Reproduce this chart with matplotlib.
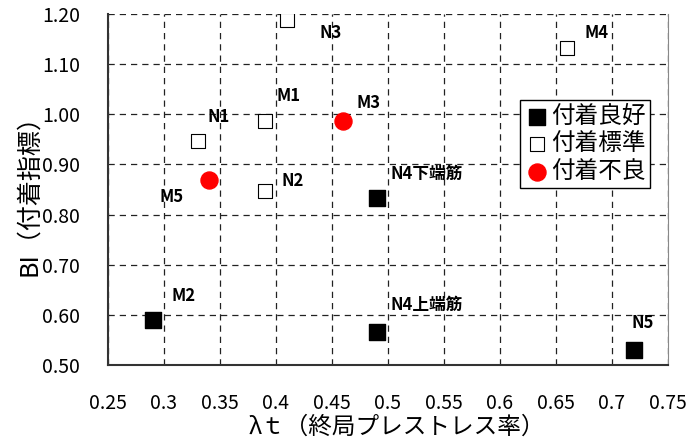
import matplotlib
matplotlib.use('Agg')
import matplotlib.pyplot as plt

plt.rcParams['font.family'] = ['Noto Sans CJK JP', 'DejaVu Sans']

# data
good_names = ['M2', 'N4上端筋', 'N5', 'N4下端筋']
good_x = [0.29, 0.49, 0.72, 0.49]
good_y = [0.59, 0.565, 0.53, 0.833]

std_names = ['N3', 'M1', 'N1', 'N2', 'M4']
std_x = [0.41, 0.39, 0.33, 0.39, 0.66]
std_y = [1.188, 0.986, 0.947, 0.847, 1.132]

bad_names = ['M3', 'M5']
bad_x = [0.46, 0.34]
bad_y = [0.986, 0.869]

# label offsets in points (dx, dy, ha)
offsets = {
    'M2': (22, 17, 'center'), 'N4上端筋': (10, 20, 'left'), 'N5': (6, 19, 'center'),
    'N4下端筋': (10, 17, 'left'), 'N3': (31, -9, 'center'), 'M1': (17, 18, 'center'),
    'N1': (15, 17, 'center'), 'N2': (20, 7, 'center'), 'M4': (21, 11, 'center'),
    'M3': (18, 13, 'center'), 'M5': (-27, -12, 'center'),
}

fig = plt.figure(figsize=(6.9, 4.45), dpi=100)
ax = fig.add_axes([0.1565, 0.180, 0.8115, 0.7885])

ax.scatter(good_x, good_y, marker='s', s=120, color='black', zorder=3, label='付着良好')
ax.scatter(std_x, std_y, marker='s', s=110, facecolor='white', edgecolor='black',
           linewidth=0.8, zorder=3, label='付着標準')
ax.scatter(bad_x, bad_y, marker='o', s=150, color='red', zorder=3, label='付着不良')

for names, xs, ys in [(good_names, good_x, good_y), (std_names, std_x, std_y), (bad_names, bad_x, bad_y)]:
    for n, x, y in zip(names, xs, ys):
        dx, dy, ha = offsets[n]
        ax.annotate(n, (x, y), xytext=(dx, dy), textcoords='offset points',
                    ha=ha, va='center', fontsize=12, fontweight='bold')

ax.set_xlim(0.25, 0.75)
ax.set_ylim(0.5, 1.2)
ax.set_xticks([0.25, 0.3, 0.35, 0.4, 0.45, 0.5, 0.55, 0.6, 0.65, 0.7, 0.75])
ax.set_xticklabels(['0.25', '0.3', '0.35', '0.4', '0.45', '0.5', '0.55', '0.6', '0.65', '0.7', '0.75'])
ax.set_yticks([0.5, 0.6, 0.7, 0.8, 0.9, 1.0, 1.1, 1.2])
ax.set_yticklabels(['0.50', '0.60', '0.70', '0.80', '0.90', '1.00', '1.10', '1.20'])
ax.tick_params(length=0, labelsize=14)
ax.tick_params(axis='y', pad=20)
ax.tick_params(axis='x', pad=20)

ax.grid(True, color='#222222', linestyle=(0, (5, 4)), linewidth=0.9)
ax.set_axisbelow(True)
ax.spines['top'].set_visible(False)
ax.spines['right'].set_color('#888888')
ax.spines['left'].set_color('#333333')
ax.spines['bottom'].set_color('#333333')
ax.spines['left'].set_linewidth(1.5)
ax.spines['bottom'].set_linewidth(1.5)

ax.set_xlabel('λｔ（終局プレストレス率）', fontsize=17, labelpad=0)
ax.xaxis.set_label_coords(0.515, -0.145)
ax.set_ylabel('BI（付着指標）', fontsize=18, labelpad=0)

leg = ax.legend(loc='upper left', bbox_to_anchor=(0.736, 0.755), fontsize=17,
                frameon=True, fancybox=False, edgecolor='black', framealpha=1,
                handletextpad=0.1, borderpad=0.2, labelspacing=0.2, handlelength=1.0,
                borderaxespad=0)
leg.get_frame().set_linewidth(1.0)

fig.savefig('out.png', dpi=100)
